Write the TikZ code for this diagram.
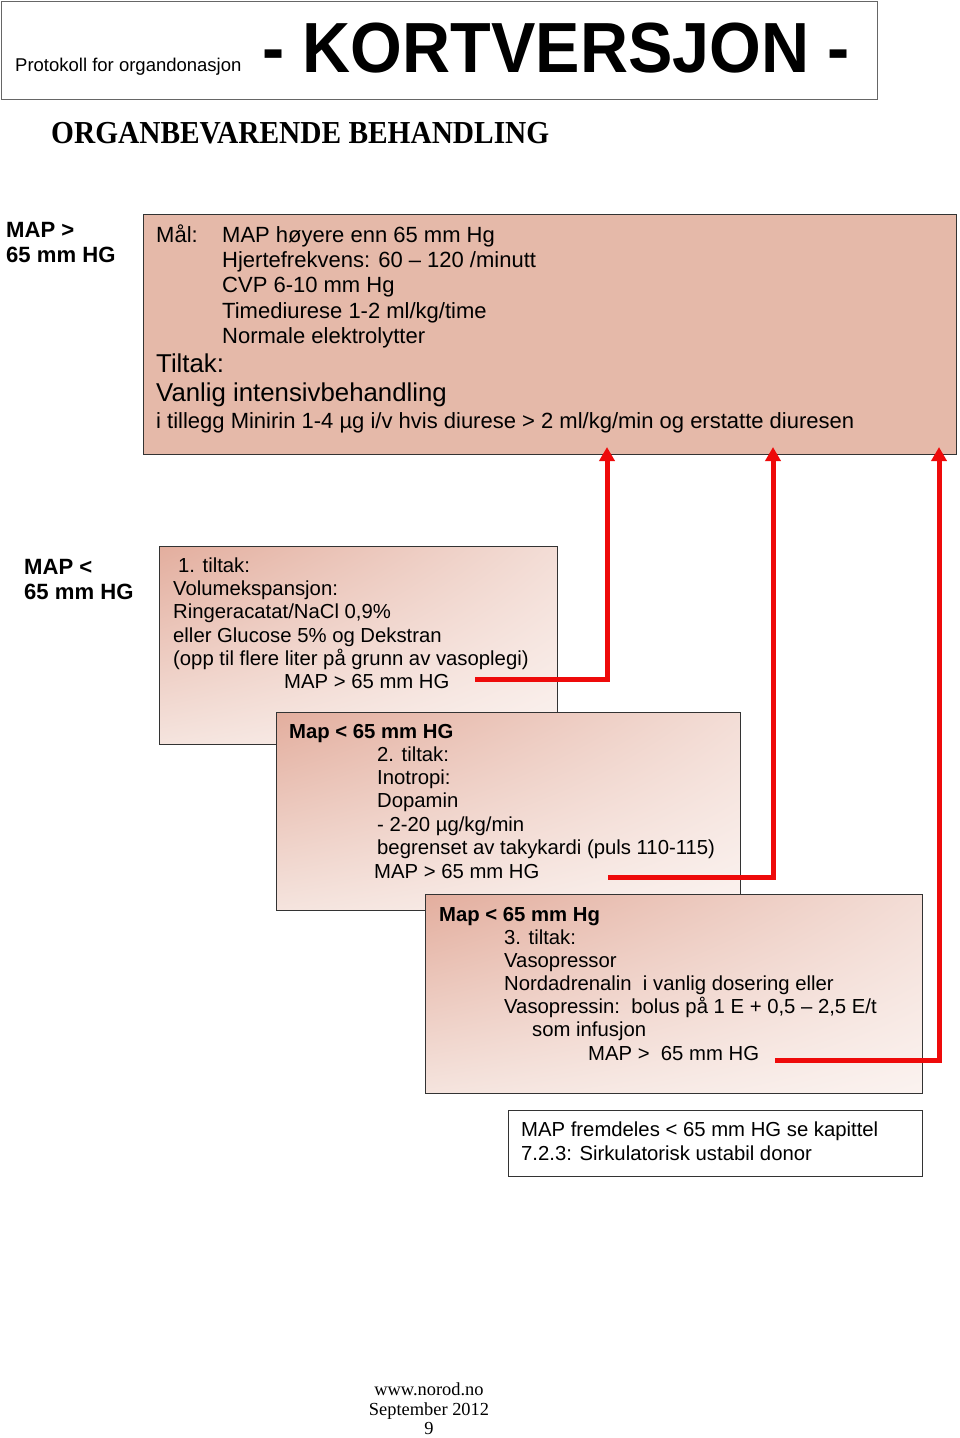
\documentclass[tikz,border=0pt]{standalone}
\usepackage{fontspec}
\setmainfont{Liberation Sans}
\newfontfamily\seriffont{Liberation Serif}
\usetikzlibrary{arrows.meta,shadings}
\definecolor{topfill}{HTML}{E5B9A9}
\definecolor{gUL}{HTML}{E3AE9E}
\definecolor{gUR}{HTML}{F3DDD6}
\definecolor{gLL}{HTML}{F5E4DE}
\definecolor{gLR}{HTML}{FBF3F0}
\definecolor{boxline}{HTML}{333333}
\definecolor{arrowred}{HTML}{EE0A0A}
\tikzset{
  x=1pt, y=-1pt,
  frame/.style={draw=boxline, line width=1.4pt, inner sep=0pt, anchor=north west},
  gradbox/.style={frame, shade, upper left=gUL, upper right=gUR, lower left=gLL, lower right=gLR},
  ln/.style={anchor=base west, inner sep=0pt, font=\fontsize{20.3}{24}\selectfont},
  lnb/.style={ln, font=\fontsize{20.3}{24}\selectfont\bfseries},
  tl/.style={anchor=base west, inner sep=0pt, font=\fontsize{22}{26}\selectfont},
  tlbig/.style={anchor=base west, inner sep=0pt, font=\fontsize{25.8}{30}\selectfont},
  side/.style={anchor=base west, inner sep=0pt, font=\fontsize{22.1}{26}\selectfont\bfseries},
  foot/.style={anchor=base, inner sep=0pt, font=\seriffont\fontsize{18.4}{21}\selectfont},
  redline/.style={draw=arrowred, line width=5pt},
  redarrow/.style={redline, line join=miter, -{Triangle[length=14pt,width=15pt]}}
}
\begin{document}
\begin{tikzpicture}
\useasboundingbox (0,0) rectangle (960,1438);
\fill[white] (0,0) rectangle (960,1438);

% header
\node[draw=gray!80!black, line width=1.2pt, inner sep=0pt, anchor=north west, minimum width=876pt, minimum height=98pt] (header) at (1,1) {};
\node[anchor=base west, inner sep=0pt, font=\fontsize{18.5}{20}\selectfont] (proto) at (15,71) {Protokoll for organdonasjon};
\node[anchor=base west, inner sep=0pt, font=\fontsize{71}{80}\selectfont\bfseries] (kort) at (262,72) {\scalebox{0.937}[1]{- KORTVERSJON -}};
\node[anchor=base west, inner sep=0pt, font=\seriffont\fontsize{32}{36}\selectfont\bfseries] (title) at (51,143) {\scalebox{0.918}[1]{ORGANBEVARENDE BEHANDLING}};

% side labels
\node[side] (s1a) at (6,237) {MAP >};
\node[side] (s1b) at (6,262) {65 mm HG};
\node[side] (s2a) at (24,574) {MAP <};
\node[side] (s2b) at (24,599) {65 mm HG};

% top box
\node[frame, fill=topfill, minimum width=813pt, minimum height=240pt] (top) at (143,214) {};
\node[tl] (m0) at (156,242) {Mål:};
\node[tl] (m1) at (222,242) {MAP høyere enn 65 mm Hg};
\node[tl] (m2) at (222,267) {Hjertefrekvens: 60 – 120 /minutt};
\node[tl] (m3) at (222,292) {CVP 6-10 mm Hg};
\node[tl] (m4) at (222,318) {Timediurese 1-2 ml/kg/time};
\node[tl] (m5) at (222,343) {Normale elektrolytter};
\node[tlbig] (m6) at (156,372) {Tiltak:};
\node[tlbig] (m7) at (156,401) {Vanlig intensivbehandling};
\node[tl] (m8) at (156,428) {i tillegg Minirin 1-4 µg i/v hvis diurese > 2 ml/kg/min og erstatte diuresen};

% box 1
\node[gradbox, minimum width=398pt, minimum height=198pt] (b1) at (159,546) {};
\node[ln] (a1) at (178,572) {1. tiltak:};
\node[ln] (a2) at (173,595) {Volumekspansjon:};
\node[ln] (a3) at (173,618) {Ringeracatat/NaCl 0,9\%};
\node[ln] (a4) at (173,642) {eller Glucose 5\% og Dekstran};
\node[ln] (a5) at (173,665) {(opp til flere liter på grunn av vasoplegi)};
\node[ln] (a6) at (284,688) {MAP > 65 mm HG};

% box 2
\node[gradbox, minimum width=464pt, minimum height=198pt] (b2) at (276,712) {};
\node[lnb] (c0) at (289,738) {Map < 65 mm HG};
\node[ln] (c1) at (377,761) {2. tiltak:};
\node[ln] (c2) at (377,784) {Inotropi:};
\node[ln] (c3) at (377,807) {Dopamin};
\node[ln] (c4) at (377,831) {- 2-20 µg/kg/min};
\node[ln] (c5) at (377,854) {begrenset av takykardi (puls 110-115)};
\node[ln] (c6) at (374,878) {MAP > 65 mm HG};

% box 3
\node[gradbox, minimum width=497pt, minimum height=199pt] (b3) at (425,894) {};
\node[lnb] (d0) at (439,921) {Map < 65 mm Hg};
\node[ln] (d1) at (504,944) {3. tiltak:};
\node[ln] (d2) at (504,967) {Vasopressor};
\node[ln] (d3) at (504,990) {Nordadrenalin\ \ i vanlig dosering eller};
\node[ln] (d4) at (504,1013) {Vasopressin:\ \ bolus på 1 E + 0,5 – 2,5 E/t};
\node[ln] (d5) at (532,1036) {som infusjon};
\node[ln] (d6) at (588,1060) {MAP >\ \ 65 mm HG};

% box 4
\node[frame, fill=white, minimum width=414pt, minimum height=66pt] (b4) at (508,1110) {};
\node[ln] (e1) at (521,1136) {MAP fremdeles < 65 mm HG se kapittel};
\node[ln] (e2) at (521,1160) {7.2.3: Sirkulatorisk ustabil donor};

% red connectors
\coordinate (r1s) at (475,679);
\coordinate (r1c) at (607,679);
\coordinate (r1e) at (607,447);
\coordinate (r2s) at (608,877);
\coordinate (r2c) at (773,877);
\coordinate (r2e) at (773,447);
\coordinate (r3s) at (775,1060);
\coordinate (r3c) at (939,1060);
\coordinate (r3e) at (939,447);
\draw[redarrow] (r1s) -- (r1c) -- (r1e);
\draw[redarrow] (r2s) -- (r2c) -- (r2e);
\draw[redarrow] (r3s) -- (r3c) -- (r3e);

% footer
\node[foot] (f1) at (429,1395) {www.norod.no};
\node[foot] (f2) at (429,1415.5) {September 2012};
\node[foot] (f3) at (429,1434.5) {9};
\end{tikzpicture}
\end{document}
